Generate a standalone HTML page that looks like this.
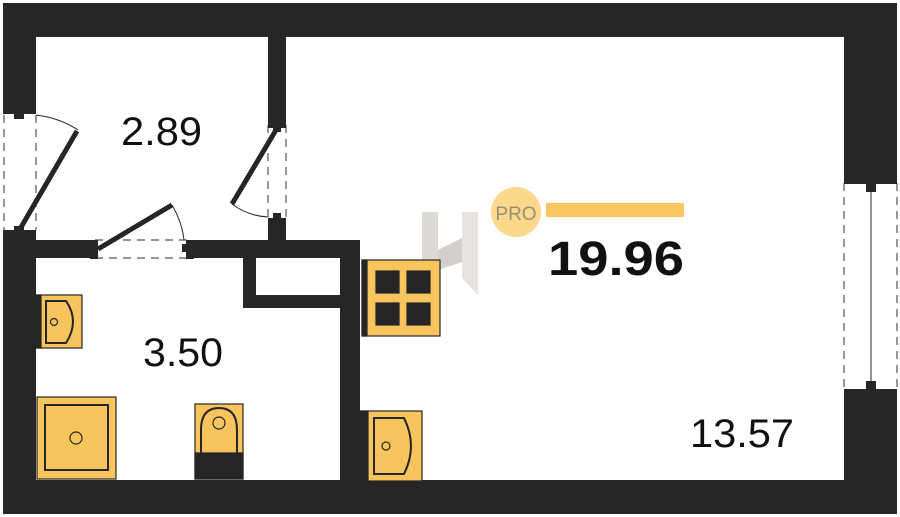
<!DOCTYPE html><html><head><style>body{margin:0;background:#fff}svg{display:block}</style></head><body>
<svg width="900" height="517" viewBox="0 0 900 517" xmlns="http://www.w3.org/2000/svg">
<rect width="900" height="517" fill="#fff"/>
<g fill="#262626">
<rect x="3" y="3" width="894" height="34"/>
<rect x="3" y="3" width="33" height="110"/>
<rect x="3" y="230" width="33" height="284"/>
<rect x="3" y="480" width="894" height="34"/>
<rect x="844" y="3" width="53" height="176"/>
<rect x="844" y="393" width="53" height="121"/>
<rect x="268" y="37" width="18" height="86"/>
<rect x="268" y="220" width="18" height="38"/>
<rect x="36" y="240" width="56" height="18"/>
<rect x="190" y="240" width="170" height="18"/>
<rect x="243" y="240" width="13" height="68"/>
<rect x="243" y="295" width="100" height="13"/>
<rect x="340" y="240" width="20" height="240"/>
</g>
<g stroke="#555" stroke-width="1.2" stroke-dasharray="8,6" fill="none">
<line x1="4" y1="115" x2="4" y2="230"/><line x1="36" y1="115" x2="36" y2="230"/>
<line x1="268" y1="125" x2="268" y2="220"/><line x1="286" y1="125" x2="286" y2="220"/>
<line x1="95" y1="240" x2="190" y2="240"/><line x1="95" y1="258" x2="190" y2="258"/>
<line x1="844" y1="183" x2="844" y2="390"/><line x1="897" y1="183" x2="897" y2="390"/>
</g>
<g fill="#262626">
<rect x="3" y="107" width="33" height="7"/><rect x="14" y="114" width="10" height="5"/>
<rect x="3" y="230" width="33" height="8"/><rect x="14" y="226" width="10" height="5"/>
<rect x="268" y="121" width="18" height="7"/><rect x="273" y="128" width="8" height="4"/>
<rect x="268" y="218" width="18" height="7"/><rect x="273" y="213" width="8" height="5"/>
<rect x="90" y="240" width="8" height="19"/><rect x="186" y="240" width="8" height="19"/><rect x="182" y="244" width="5" height="8"/>
<rect x="844" y="178" width="53" height="6"/><rect x="866" y="184" width="10" height="8"/>
<rect x="844" y="389" width="53" height="6"/><rect x="866" y="381" width="10" height="8"/>
</g>
<line x1="871" y1="190" x2="871" y2="383" stroke="#262626" stroke-width="1"/>
<g stroke="#262626" stroke-width="5" stroke-linecap="butt">
<line x1="20" y1="229" x2="77" y2="131"/>
<line x1="276" y1="130" x2="232" y2="204"/>
<line x1="98" y1="249" x2="172" y2="205"/>
</g>
<g stroke="#262626" stroke-width="1" fill="none">
<path d="M36 115 Q60 118 78 130"/>
<path d="M232 204 Q248 216 268 217"/>
<path d="M172 205 Q182 222 184 240"/>
</g>
<g opacity="0.5">
<polygon points="422,212 438,212 438,295 422,278" fill="#bdb6ad"/>
<polygon points="462,212 478,212 478,295 462,278" fill="#cfc9c2"/>
<polygon points="438,250 462,238 462,262 438,270" fill="#a9a198"/>
</g>
<g stroke="#262626" stroke-width="1.2">
<rect x="362" y="260" width="78" height="76" fill="#f7c45e"/>
<rect x="362" y="260" width="5" height="76" fill="#262626"/>
<rect x="376" y="271" width="23" height="22" fill="#262626"/><rect x="407" y="271" width="23" height="22" fill="#262626"/>
<rect x="376" y="303" width="23" height="22" fill="#262626"/><rect x="407" y="303" width="23" height="22" fill="#262626"/>
<rect x="360" y="411" width="62" height="70" fill="#f7c45e"/>
<rect x="360" y="411" width="8" height="70" fill="#262626"/>
<path d="M374 418 H404 Q418 446 404 474 H374 Z" fill="none" stroke-width="2"/>
<circle cx="386" cy="446" r="4" fill="none"/>
<rect x="36" y="295" width="46" height="53" fill="#f7c45e"/>
<rect x="36" y="295" width="5" height="53" fill="#262626"/>
<path d="M46 301 H66 Q80 321 66 343 H46 Z" fill="none" stroke-width="2"/>
<circle cx="54" cy="322" r="3.5" fill="none"/>
<rect x="37" y="397" width="79" height="82" fill="#f7c45e"/>
<rect x="45" y="405" width="63" height="65" fill="none" stroke-width="2"/>
<circle cx="76" cy="438" r="6" fill="none"/>
<rect x="195" y="404" width="48" height="75" fill="#f7c45e"/>
<rect x="195" y="453" width="48" height="26" fill="#262626"/>
<path d="M201 453 V430 Q201 408 219 408 Q237 408 237 430 V453" fill="none" stroke-width="2"/>
<circle cx="219" cy="423" r="6" fill="none"/>
</g>
<circle cx="516" cy="212" r="25" fill="#fcd98a"/>
<text x="516" y="220" font-family="Liberation Sans, sans-serif" font-size="19" fill="#9b8f7c" text-anchor="middle">PRO</text>
<rect x="546" y="203" width="138" height="14" fill="#f9c75f"/>
<g font-family="Liberation Sans, sans-serif" fill="#111">
<text x="548" y="275" font-size="48" font-weight="bold" textLength="136" lengthAdjust="spacingAndGlyphs">19.96</text>
<text x="121" y="145" font-size="40" textLength="81" lengthAdjust="spacingAndGlyphs">2.89</text>
<text x="143" y="366" font-size="40" textLength="80" lengthAdjust="spacingAndGlyphs">3.50</text>
<text x="690" y="447" font-size="40" textLength="104" lengthAdjust="spacingAndGlyphs">13.57</text>
</g>
</svg>
</body></html>
